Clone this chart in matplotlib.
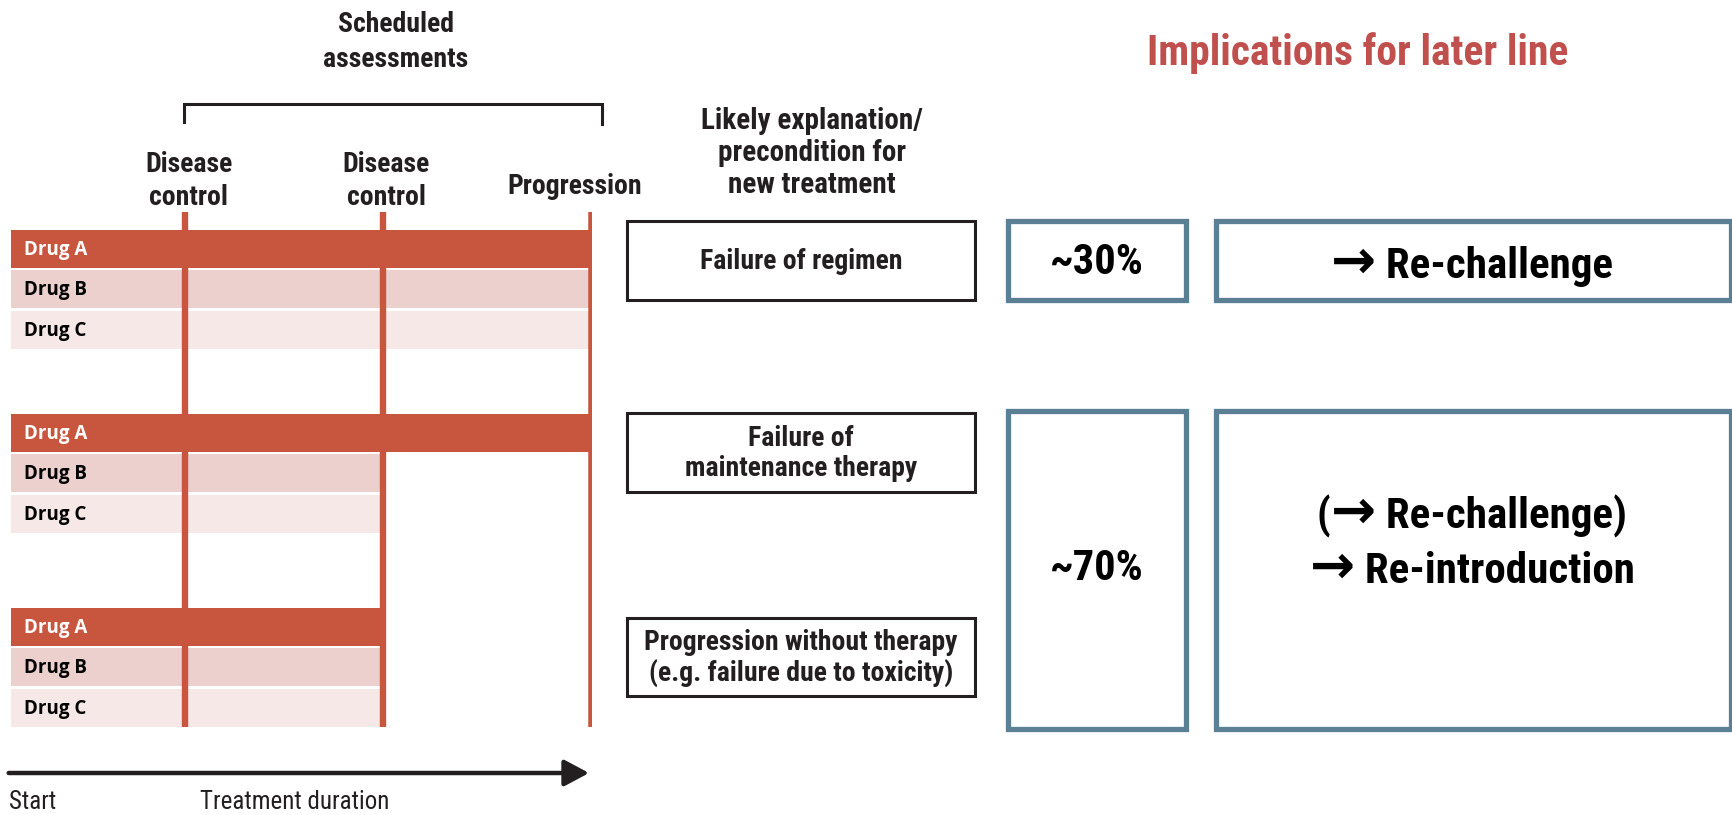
import matplotlib
matplotlib.use("Agg")
import matplotlib.pyplot as plt
from matplotlib.patches import Rectangle
from matplotlib import font_manager
from matplotlib.offsetbox import TextArea, HPacker, AnnotationBbox

# ---------------- data ----------------
drugs = ["Drug A", "Drug B", "Drug C"]
assessment_labels = ["Disease\ncontrol", "Disease\ncontrol", "Progression"]
assessment_times = [0.30, 0.64, 1.0]          # relative treatment time (progression = 1)
scenario_durations = [                         # treatment duration of each drug per scenario
    [1.0, 1.0, 1.0],
    [1.0, 0.64, 0.64],
    [0.64, 0.64, 0.64],
]
explanations = ["Failure of regimen",
                "Failure of\nmaintenance therapy",
                "Progression without therapy\n(e.g. failure due to toxicity)"]
shares = ["~30%", "~70%"]
implications = [["\u2192 Re-challenge"],
                ["(\u2192 Re-challenge)", "\u2192 Re-introduction"]]
header_left = "Scheduled\nassessments"
header_mid = "Likely explanation/\nprecondition for\nnew treatment"
header_right = "Implications for later line"
axis_labels = ["Start", "Treatment duration"]

# ---------------- style ----------------
W, H = 1733, 815
RED = "#C8553D"
ROW_COLORS = ["#C8553D", "#EBD0CD", "#F5E8E6"]
ROW_TEXT = ["white", "black", "black"]
BLUE = "#5B7F95"
DARK = "#231F20"
TITLE_RED = "#C0504D"

available = {f.name for f in font_manager.fontManager.ttflist}
cands = ["Liberation Sans Narrow", "Roboto Condensed", "Open Sans Condensed", "DejaVu Sans Condensed"]
NARROW = [f for f in cands if f in available] + ["Liberation Sans", "DejaVu Sans"]
LABEL = [f for f in ["Open Sans", "Lato"] if f in available] + ["DejaVu Sans"]

fig = plt.figure(figsize=(W / 100, H / 100), dpi=100)
ax = fig.add_axes([0, 0, 1, 1])
ax.set_xlim(0, W)
ax.set_ylim(H, 0)
ax.axis("off")

# timeline panel: x = relative treatment time
x0_px, x1_px = 11, 592
pax = fig.add_axes([x0_px / W, 0, (x1_px - x0_px) / W, 1])
pax.set_xlim(0, 1)
pax.set_ylim(H, 0)
pax.axis("off")

group_tops = [230, 414, 608]
pitch, bar_h = 40.3, 38
for g, top in enumerate(group_tops):
    for i, drug in enumerate(drugs):
        yc = top + i * pitch + bar_h / 2
        pax.barh(yc, scenario_durations[g][i], height=bar_h, left=0,
                 color=ROW_COLORS[i], zorder=2)
        pax.text(0.022, yc + 1, drug, ha="left", va="center", fontsize=13.5,
                 fontweight="bold", color=ROW_TEXT[i], family=LABEL, zorder=4)

for k, t in enumerate(assessment_times):
    pax.vlines(t, 212, 727, color=RED, lw=4.6 if k < 2 else 5.4, zorder=3)
    if k < 2:
        pax.text(t + 0.006, 181, assessment_labels[k], ha="center", va="center",
                 fontsize=20, fontweight="bold", color=DARK, family=NARROW,
                 linespacing=1.25, clip_on=False)
    else:
        pax.text(t - 0.03, 186, assessment_labels[k], ha="center", va="center",
                 fontsize=20, fontweight="bold", color=DARK, family=NARROW,
                 clip_on=False)

# time arrow
pax.annotate("", xy=(0.995, 773), xytext=(-0.004, 773),
             arrowprops=dict(arrowstyle="-|>,head_length=0.75,head_width=0.4",
                             lw=3.2, color=DARK, mutation_scale=20,
                             shrinkA=0, shrinkB=0),
             annotation_clip=False)
ax.text(9, 802, axis_labels[0], ha="left", va="center", fontsize=18,
        color=DARK, family=NARROW)
ax.text(200, 802, axis_labels[1], ha="left", va="center", fontsize=18,
        color=DARK, family=NARROW)

# bracket for scheduled assessments
ax.plot([184, 184, 602, 602], [122, 104, 104, 124], color=DARK, lw=2.2,
        solid_joinstyle="miter")
ax.text(396, 42, header_left, ha="center", va="center", fontsize=20,
        fontweight="bold", color=DARK, family=NARROW, linespacing=1.35)

# middle column
ax.text(812, 153, header_mid, ha="center", va="center", fontsize=21,
        fontweight="bold", color=DARK, family=NARROW, linespacing=1.17)
mid_boxes = [(221, 300), (413, 492), (618, 696)]
for (t, b), label in zip(mid_boxes, explanations):
    ax.add_patch(Rectangle((627, t), 348, b - t, facecolor="white",
                           edgecolor=DARK, lw=2.2, zorder=2))
    ax.text(801, (t + b) / 2 + 1, label, ha="center", va="center", fontsize=20,
            fontweight="bold", color=DARK, family=NARROW, linespacing=1.15,
            zorder=3)

# right column
ax.text(1358, 53, header_right, ha="center", va="center", fontsize=30,
        fontweight="bold", color=TITLE_RED, family=NARROW)
right_boxes = [(221, 300), (411, 729)]
for r, (t, b) in enumerate(right_boxes):
    ax.add_patch(Rectangle((1008, t), 178, b - t, facecolor="white",
                           edgecolor=BLUE, lw=3.8, zorder=2))
    ax.add_patch(Rectangle((1216, t), 515, b - t, facecolor="white",
                           edgecolor=BLUE, lw=3.8, zorder=2))
ax.text(1097, 262, shares[0], ha="center", va="center", fontsize=30.5,
        fontweight="bold", color="black", family=NARROW, zorder=3)
ax.text(1097, 568, shares[1], ha="center", va="center", fontsize=30.5,
        fontweight="bold", color="black", family=NARROW, zorder=3)


def rich_line(x, y, s, size=31):
    """Text line where the arrow glyph is drawn larger in DejaVu Sans."""
    parts = []
    buf = ""
    for ch in s:
        if ch == "\u2192":
            if buf:
                parts.append((buf, NARROW, size))
                buf = ""
            parts.append((ch, ["DejaVu Sans"], size * 1.25))
        else:
            buf += ch
    if buf:
        parts.append((buf, NARROW, size))
    children = [TextArea(p, textprops=dict(fontsize=fs, fontweight="bold",
                                           color="black", family=fam))
                for p, fam, fs in parts]
    box = HPacker(children=children, align="baseline", pad=0, sep=0)
    ab = AnnotationBbox(box, (x, y), xycoords="data", frameon=False,
                        box_alignment=(0.5, 0.5), pad=0, zorder=3)
    ax.add_artist(ab)


rich_line(1472, 263, implications[0][0])
rich_line(1472, 513, implications[1][0])
rich_line(1472, 568, implications[1][1])

fig.savefig("out.png", dpi=100)
